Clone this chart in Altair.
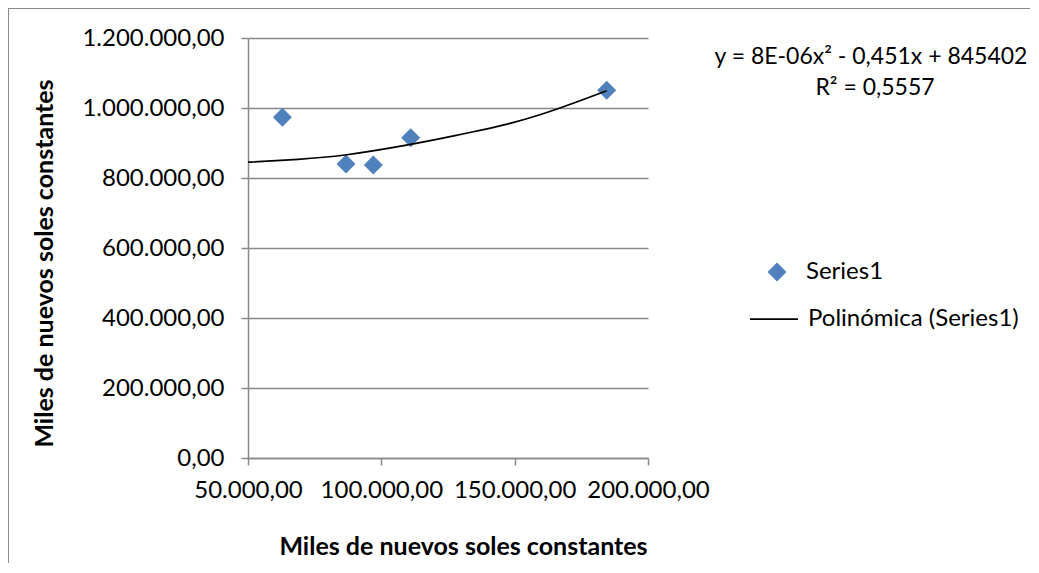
import altair as alt
import pandas as pd

# Data
x_values = [62900, 86750, 97000, 111000, 184500]
y_values = [973500, 840000, 837000, 915000, 1051000]
# trendline samples
trend_x = [50000, 68750, 86375, 108875, 127625, 148250, 167000, 184500]
trend_y = [845000, 853500, 865700, 893000, 921000, 956000, 1000000, 1049400]
series_name = "Series1"
trend_name = "Polinómica (Series1)"
equation_lines = ["y = 8E-06x² - 0,451x + 845402", "R² = 0,5557"]
x_ticks = [50000, 100000, 150000, 200000]
y_ticks = [0, 200000, 400000, 600000, 800000, 1000000, 1200000]
axis_title = "Miles de nuevos soles constantes"

FONT = "Lato"
GRID = "#898989"
BLUE = "#4F81BD"

df = pd.DataFrame({"x": x_values, "y": y_values})
tdf = pd.DataFrame({"x": trend_x, "y": trend_y})

label_expr = ("replace(replace(replace(format(datum.value, ',.2f'), regexp(',', 'g'), 'T'), "
              "regexp('[.]', 'g'), ','), regexp('T', 'g'), '.')")

x_enc = alt.X("x:Q", scale=alt.Scale(domain=[50000, 200000], nice=False, zero=False),
              axis=alt.Axis(values=x_ticks, labelExpr=label_expr, grid=False, title=axis_title,
                            titleX=215, titleY=88, titleBaseline="middle"))
y_enc = alt.Y("y:Q", scale=alt.Scale(domain=[0, 1200000], nice=False),
              axis=alt.Axis(values=y_ticks, labelExpr=label_expr, grid=True, title=axis_title,
                            titleX=-204, titleY=225, titleBaseline="middle"))

points = alt.Chart(df).mark_point(shape="diamond", filled=True, size=361, opacity=1,
                                  color=BLUE).encode(x=x_enc, y=y_enc)

trend = alt.Chart(tdf).mark_line(strokeWidth=1.75, color="#000000",
                                 interpolate="natural").encode(x="x:Q", y="y:Q")

eq_df = pd.DataFrame({"text": equation_lines, "row": [0, 1]})
txt = dict(font=FONT, fontSize=24, color="#000000", baseline="middle")
eq1 = alt.Chart(eq_df).transform_filter("datum.row == 0").mark_text(
    align="center", **{**txt, "fontSize": 23}).encode(
    x=alt.value(623), y=alt.value(19), text="text:N")
eq2 = alt.Chart(eq_df).transform_filter("datum.row == 1").mark_text(
    align="center", **{**txt, "fontSize": 23}).encode(
    x=alt.value(627), y=alt.value(50), text="text:N")

# legend
leg_df = pd.DataFrame({"label": [series_name, trend_name], "row": [0, 1]})
leg_sym = alt.Chart(leg_df).transform_filter("datum.row == 0").mark_point(
    shape="diamond", filled=True, size=361, opacity=1, color=BLUE
).encode(x=alt.value(529), y=alt.value(234))
leg_line = alt.Chart(leg_df).transform_filter("datum.row == 1").mark_rule(
    color="#000000", strokeWidth=1.75
).encode(x=alt.value(502), x2=alt.value(550), y=alt.value(281))
leg_t1 = alt.Chart(leg_df).transform_filter("datum.row == 0").mark_text(align="left", **txt).encode(
    x=alt.value(558), y=alt.value(234), text="label:N")
leg_t2 = alt.Chart(leg_df).transform_filter("datum.row == 1").mark_text(align="left", **txt).encode(
    x=alt.value(560), y=alt.value(281), text="label:N")

frame_left = alt.Chart(eq_df).mark_rule(color="#8a8a8a", strokeWidth=1).encode(
    x=alt.value(-239.5), y=alt.value(-30), y2=alt.value(600))
frame_top = alt.Chart(eq_df).mark_rule(color="#8a8a8a", strokeWidth=1).encode(
    y=alt.value(-29.5), x=alt.value(-240), x2=alt.value(800))

chart = alt.layer(frame_left, frame_top, points, trend, eq1, eq2,
                  leg_sym, leg_line, leg_t1, leg_t2).properties(
    width=400, height=420,
    autosize=alt.AutoSizeParams(type="none"),
    padding={"left": 240, "top": 30, "right": 382, "bottom": 105},
).configure_view(stroke=None).configure_axis(
    domainColor=GRID, tickColor=GRID, gridColor=GRID, domainWidth=1.5, tickWidth=1.5, gridWidth=1.5,
    tickSize=7, labelFont=FONT, labelFontSize=24, labelColor="#000000",
    titleFont=FONT, titleFontSize=25, titleFontWeight="bold", titleColor="#000000",
).configure_axisX(labelPadding=13, labelFlush=False).configure_axisY(labelPadding=17)

chart.save("out.html", embed_options={"renderer": "svg", "actions": False})
